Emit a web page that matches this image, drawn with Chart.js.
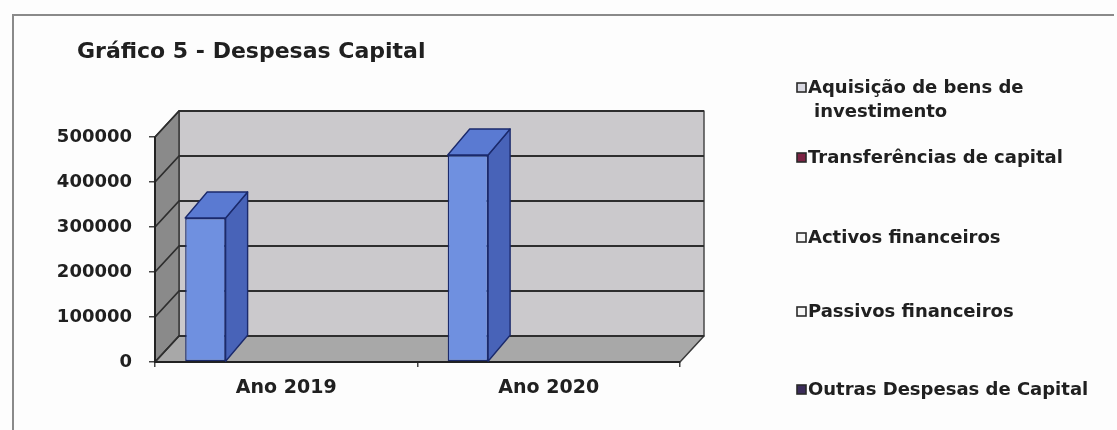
<!DOCTYPE html>
<html>
<head>
<meta charset="utf-8">
<title>Gráfico 5 - Despesas Capital</title>
<script src="https://cdn.jsdelivr.net/npm/chart.js@4.4.1/dist/chart.umd.min.js"></script>
<style>
  html, body { margin: 0; padding: 0; background: #ffffff; }
  #wrap { position: relative; width: 1117px; height: 430px; overflow: hidden; background: #fdfdfd; }
  #wrap canvas { position: absolute; left: 0; top: 0; }
  #frame {
    position: absolute; left: 12px; top: 14px; width: 1100px; height: 430px;
    border-top: 2px solid #8a8a8a; border-left: 2px solid #8a8a8a;
    pointer-events: none;
  }
</style>
</head>
<body>
<div id="wrap">
  <canvas id="chart" width="1117" height="430"></canvas>
  <div id="frame"></div>
</div>
<script>
// ---- data ----
const chartTitle = 'Gráfico 5 - Despesas Capital';
const categories = ['Ano 2019', 'Ano 2020'];
const seriesNames = [
  ['Aquisição de bens de', 'investimento'],
  'Transferências de capital',
  'Activos financeiros',
  'Passivos financeiros',
  'Outras Despesas de Capital'
];
const aquisicaoBens = [320000, 460000];
const transferencias = [null, null];
const activosFinanceiros = [null, null];
const passivosFinanceiros = [null, null];
const outrasDespesas = [null, null];
const yTickValues = [0, 100000, 200000, 300000, 400000, 500000];

// ---- styling ----
const FONT = '"DejaVu Sans", "Liberation Sans", Arial, sans-serif';
const TEXT = '#202020';
const WALL = { dx: 24, dy: -26 };
const BAR_DEPTH = { dx: 22, dy: -26 };
const BAR = { front: '#6f90e0', top: '#5a7ad2', side: '#4863b8', edge: '#1b2a6c' };
const swatches = ['#d9d9e2', '#7c2344', '#f6f6f6', '#f6f6f6', '#3b2c5a'];
const legendLayout = { x: 797, rows: [88, 158, 238, 312, 390], lineGap: 24, indent: 16 };
const titleLayout = { x: 77, y: 52 };

function poly(ctx, pts, fill, stroke, lw) {
  ctx.beginPath();
  ctx.moveTo(pts[0][0], pts[0][1]);
  for (let i = 1; i < pts.length; i++) ctx.lineTo(pts[i][0], pts[i][1]);
  ctx.closePath();
  if (fill) { ctx.fillStyle = fill; ctx.fill(); }
  if (stroke) { ctx.strokeStyle = stroke; ctx.lineWidth = lw || 1; ctx.lineJoin = 'round'; ctx.stroke(); }
}

// walls, floor and gridlines of the 3-D box, then top/side faces of the columns
const box3d = {
  id: 'box3d',
  beforeDatasetsDraw(chart) {
    const { ctx, chartArea: a, scales: { y } } = chart;
    const { dx, dy } = WALL;
    ctx.save();
    poly(ctx, [[a.left + dx, a.top + dy], [a.right + dx, a.top + dy], [a.right + dx, a.bottom + dy], [a.left + dx, a.bottom + dy]], '#cbc9cc', '#4a4a4a', 1.5);
    poly(ctx, [[a.left, a.top], [a.left + dx, a.top + dy], [a.left + dx, a.bottom + dy], [a.left, a.bottom]], '#8a8a8a', '#3a3a3a', 1.5);
    poly(ctx, [[a.left, a.bottom], [a.right, a.bottom], [a.right + dx, a.bottom + dy], [a.left + dx, a.bottom + dy]], '#a8a8a8', '#3a3a3a', 1.5);
    ctx.strokeStyle = '#2e2e2e';
    ctx.lineWidth = 1.8;
    y.ticks.forEach(t => {
      const py = y.getPixelForValue(t.value);
      ctx.beginPath();
      ctx.moveTo(a.left, py);
      ctx.lineTo(a.left + dx, py + dy);
      ctx.lineTo(a.right + dx, py + dy);
      ctx.stroke();
    });
    ctx.beginPath();
    ctx.moveTo(a.left, a.top); ctx.lineTo(a.left, a.bottom); ctx.lineTo(a.right, a.bottom);
    ctx.strokeStyle = '#222'; ctx.lineWidth = 2; ctx.stroke();
    ctx.restore();
  },
  afterDatasetsDraw(chart) {
    const ctx = chart.ctx;
    const { dx, dy } = BAR_DEPTH;
    ctx.save();
    chart.data.datasets.forEach((ds, i) => {
      const meta = chart.getDatasetMeta(i);
      if (meta.hidden) return;
      meta.data.forEach((bar, j) => {
        if (ds.data[j] == null) return;
        const { x, y, base, width } = bar.getProps(['x', 'y', 'base', 'width'], true);
        const l = x - width / 2, r = x + width / 2;
        poly(ctx, [[r, y], [r + dx, y + dy], [r + dx, base + dy], [r, base]], BAR.side, BAR.edge, 1.4);
        poly(ctx, [[l, y], [r, y], [r + dx, y + dy], [l + dx, y + dy]], BAR.top, BAR.edge, 1.4);
      });
    });
    ctx.restore();
  }
};

// title at top left and legend to the right of the plot
const sideText = {
  id: 'sideText',
  afterDraw(chart) {
    const ctx = chart.ctx;
    ctx.save();
    ctx.textBaseline = 'middle';
    ctx.fillStyle = TEXT;
    ctx.font = 'bold 22px ' + FONT;
    ctx.fillText(chartTitle, titleLayout.x, titleLayout.y);

    ctx.font = 'bold 18px ' + FONT;
    chart.data.datasets.forEach((ds, i) => {
      const lines = Array.isArray(ds.label) ? ds.label : [ds.label];
      const y0 = legendLayout.rows[i];
      ctx.fillStyle = swatches[i];
      ctx.fillRect(legendLayout.x, y0 - 5, 9, 9);
      ctx.strokeStyle = '#2a2a2a';
      ctx.lineWidth = 1.6;
      ctx.strokeRect(legendLayout.x, y0 - 5, 9, 9);
      ctx.fillStyle = TEXT;
      lines.forEach((ln, k) => {
        ctx.fillText(ln, legendLayout.x + 11 + (k ? legendLayout.indent - 10 : 0), y0 + k * legendLayout.lineGap);
      });
    });
    ctx.restore();
  }
};

const datasetStyle = { borderColor: BAR.edge, borderWidth: 1.4, borderSkipped: false };

new Chart(document.getElementById('chart'), {
  type: 'bar',
  data: {
    labels: categories,
    datasets: [
      { label: seriesNames[0], data: aquisicaoBens, backgroundColor: BAR.front, ...datasetStyle },
      { label: seriesNames[1], data: transferencias, backgroundColor: swatches[1], ...datasetStyle },
      { label: seriesNames[2], data: activosFinanceiros, backgroundColor: swatches[2], ...datasetStyle },
      { label: seriesNames[3], data: passivosFinanceiros, backgroundColor: swatches[3], ...datasetStyle },
      { label: seriesNames[4], data: outrasDespesas, backgroundColor: swatches[4], ...datasetStyle }
    ]
  },
  options: {
    responsive: false,
    animation: false,
    layout: { padding: { left: 40, right: 437, top: 137, bottom: 0 } },
    datasets: { bar: { categoryPercentage: 0.77, barPercentage: 1 } },
    plugins: {
      legend: { display: false },
      tooltip: { enabled: false },
      title: { display: false }
    },
    scales: {
      x: {
        grid: { drawOnChartArea: false, drawTicks: true, tickLength: 5, color: '#444', lineWidth: 1.5 },
        border: { display: true, color: '#222', width: 2 },
        ticks: { color: TEXT, font: { family: FONT, size: 19, weight: 'bold' }, padding: 10, maxRotation: 0 },
        afterFit(scale) { scale.height = 68; }
      },
      y: {
        min: 0,
        max: 500000,
        afterBuildTicks(scale) { scale.ticks = yTickValues.map(v => ({ value: v })); },
        grid: { drawOnChartArea: false, drawTicks: true, tickLength: 6, color: '#444', lineWidth: 1.5 },
        border: { display: true, color: '#222', width: 2 },
        ticks: { color: TEXT, font: { family: FONT, size: 18, weight: 'bold' }, padding: 17, callback: v => String(v) },
        afterFit(scale) { scale.width = 115; }
      }
    }
  },
  plugins: [box3d, sideText]
});
</script>
</body>
</html>
